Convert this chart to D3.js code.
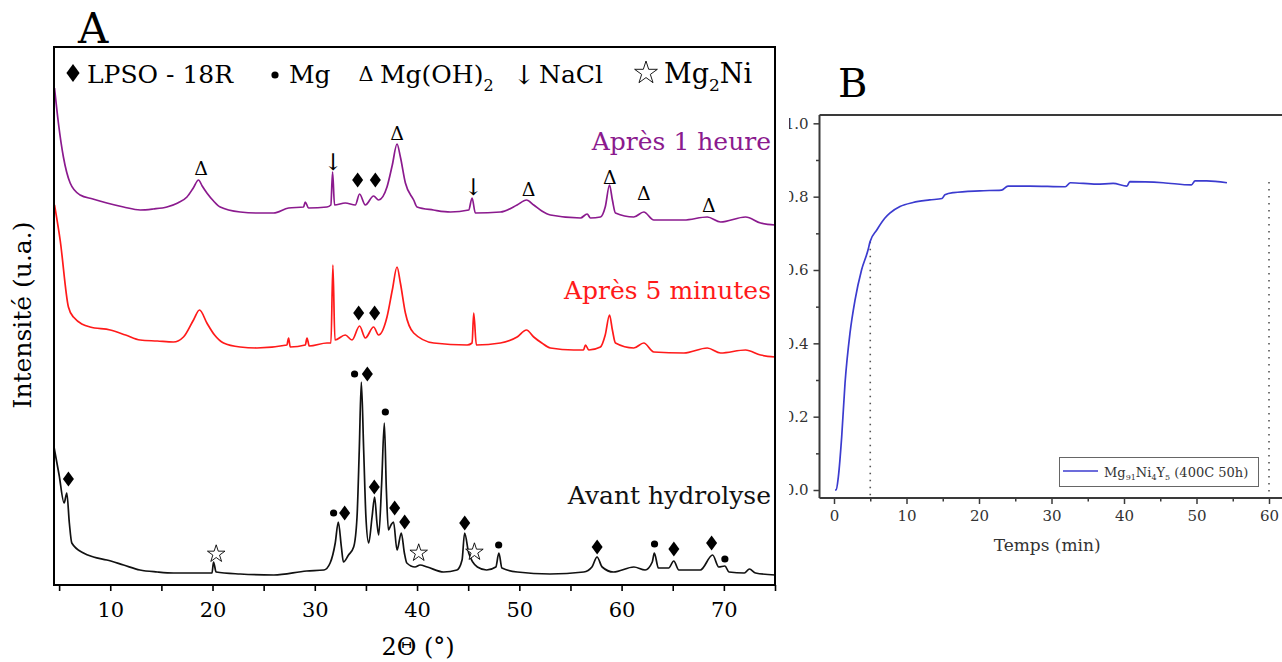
<!DOCTYPE html>
<html><head><meta charset="utf-8">
<script src="https://cdn.jsdelivr.net/npm/d3@7/dist/d3.min.js"></script>
<style>body{margin:0;background:#fff}svg{display:block}text{font-family:'DejaVu Serif',serif}</style>
</head><body><svg id="c" width="1282" height="662"></svg>
<script>
// ---------------- DATA ----------------
const thetaDomain = [4.5, 75];
const intensityDomain = [0, 538];
const thetaTicks = [5,10,15,20,25,30,35,40,45,50,55,60,65,70,75];

// [2theta (deg), intensity (a.u.)]
const apres1h = [[4.55,497],[4.93,462],[5.42,428],[6.08,402],[7.05,390],[8.3,386],[9.67,382],[11.3,378],[12.93,375],[14.2,376],[15.54,378],[16.6,382],[17.5,388],[18.12,397],[18.63,405],[18.99,399],[19.45,392],[20.1,384],[20.75,378],[22.71,373],[24.3,372],[25.97,372],[27.44,377],[28.9,378],[29.07,383],[29.39,377],[31.19,378],[31.57,380],[31.74,413],[31.93,380],[32.98,382],[33.96,380],[34.38,391],[34.94,380],[35.75,389],[36.24,385],[37.06,398],[37.58,420],[38.04,441],[38.37,428],[38.86,402],[39.67,385],[40.0,378],[41.6,375],[43.26,373],[45.05,375],[45.38,387],[45.7,372],[48.15,373],[49.78,380],[50.7,385],[51.41,380],[52.2,374],[53.04,370],[55.98,367],[56.63,371],[56.96,367],[57.93,368],[58.4,378],[58.82,400],[59.1,385],[59.4,372],[61.19,368],[62.17,373],[63.15,365],[66.09,365],[68.38,368],[69.68,363],[72.12,368],[73.59,362],[75.0,360]];

const apres5min = [[4.55,380],[5.1,345],[5.91,278],[6.4,268],[8.03,258],[10.0,255],[11.5,250],[12.93,245],[14.6,244],[16.18,243],[17.16,248],[18.14,265],[18.73,275],[19.45,262],[20.2,250],[21.08,242],[22.7,238],[24.34,237],[27.27,240],[27.44,247],[27.6,238],[29.07,240],[29.24,247],[29.46,239],[31.19,242],[31.58,242],[31.77,320],[31.97,245],[32.98,250],[33.64,245],[34.38,259],[34.94,247],[35.75,258],[36.24,250],[37.06,268],[37.58,295],[38.04,318],[38.37,302],[38.86,272],[39.67,252],[41.63,242],[44.9,240],[45.38,242],[45.54,272],[45.8,240],[48.15,242],[49.78,248],[50.7,255],[51.41,248],[52.2,242],[53.04,237],[55.32,235],[56.27,235],[56.47,240],[56.79,235],[57.93,238],[58.4,250],[58.82,270],[59.1,255],[59.4,242],[61.19,237],[62.17,242],[63.15,233],[66.09,232],[68.38,237],[69.68,232],[72.12,235],[73.59,230],[75.0,228]];

const avantHydrolyse = [[4.5,138],[5.0,110],[5.49,82],[5.75,92],[6.0,62],[6.24,42],[7.38,32],[8.36,28],[9.67,25],[11.3,20],[12.9,15],[14.6,13],[16.2,12],[19.45,12],[19.95,12],[20.1,23],[20.35,13],[22.7,11],[26.0,10],[29.2,14],[30.9,15],[31.5,22],[32.0,42],[32.3,63],[32.6,38],[32.8,23],[33.3,30],[33.8,38],[34.13,68],[34.35,135],[34.55,203],[34.78,135],[35.0,68],[35.27,42],[35.6,68],[35.85,88],[36.08,62],[36.25,50],[36.54,102],[36.8,162],[37.0,95],[37.2,55],[37.45,60],[37.7,63],[38.04,35],[38.46,52],[38.76,32],[39.0,22],[39.8,18],[40.3,20],[41.0,18],[42.6,13],[43.9,15],[44.4,25],[44.65,52],[45.05,32],[45.9,18],[46.8,15],[47.7,18],[48.0,32],[48.3,17],[49.8,13],[53.0,11],[56.3,13],[57.1,18],[57.6,28],[58.1,18],[59.2,13],[61.2,18],[62.3,15],[63.0,23],[63.2,32],[63.6,17],[64.6,17],[65.1,24],[65.6,15],[67.7,15],[68.9,30],[69.5,18],[70.1,19],[70.5,13],[72.0,12],[72.5,16],[73.1,12],[75.0,10]];

// phase markers: [2theta, intensity, type]
const markers1h = [[18.89,417,'delta'],[31.78,423,'arrow'],[34.19,405,'diamond'],[35.92,405,'diamond'],[38.04,452,'delta'],[45.48,398,'arrow'],[50.92,396,'delta'],[58.85,408,'delta'],[62.17,392,'delta'],[68.53,380,'delta']];
const markers5min = [[34.29,272,'diamond'],[35.85,272,'diamond']];
const markersAvant = [[5.91,106,'diamond'],[20.36,32,'star'],[31.84,72,'dot'],[32.92,72,'diamond'],[33.89,211,'dot'],[35.14,211,'diamond'],[35.82,98,'diamond'],[36.9,173,'dot'],[37.81,77,'diamond'],[38.79,63,'diamond'],[40.16,33,'star'],[44.66,62,'diamond'],[45.61,34,'star'],[47.98,40,'dot'],[57.61,38,'diamond'],[63.22,41,'dot'],[65.11,36,'diamond'],[68.8,42,'diamond'],[70.1,26,'dot']];

const seriesLabels = ['Après 1 heure','Après 5 minutes','Avant hydrolyse'];

// Panel B: hydrolysis kinetics
const tempsMin = [0.14,0.3,0.6,1.06,1.52,2.2,2.9,3.8,4.7,4.97,5.9,7.0,7.7,9.1,10.9,13.2,14.9,15.3,16.5,20.1,23.1,24.0,27.0,31.9,32.6,36.2,38.5,40.4,40.8,45.4,49.3,49.8,51.4,54.2];
const fraction = [0,0,0.036,0.145,0.291,0.427,0.518,0.6,0.655,0.677,0.709,0.741,0.755,0.773,0.784,0.791,0.795,0.805,0.811,0.816,0.818,0.829,0.829,0.827,0.838,0.834,0.836,0.829,0.841,0.838,0.832,0.843,0.843,0.838];
const tempsDomain = [-2, 64];
const fractionDomain = [-0.0218, 1.0227];
const guideTimes = [5, 60];
const guideValues = [0.677, 0.84];
const tempsTicks = d3.range(0, 65, 5);
const fractionTicks = d3.range(0, 10.5, 1).map(d => +(d/10).toFixed(1));

// ---------------- DRAWING ----------------
const svg = d3.select('#c');
svg.append('rect').attr('width',1282).attr('height',662).attr('fill','#fff');
const SERIF = "'DejaVu Serif', serif";

// ===== Panel A =====
const A = {l:54, r:775, t:47, b:585};
const x = d3.scaleLinear().domain(thetaDomain).range([A.l, A.r]);
const y = d3.scaleLinear().domain(intensityDomain).range([A.b, A.t]);
const gA = svg.append('g');

const clipA = svg.append('clipPath').attr('id','clipA');
clipA.append('rect').attr('x',A.l).attr('y',A.t).attr('width',A.r-A.l).attr('height',A.b-A.t);

const line = d3.line().curve(d3.curveMonotoneX).x(d=>x(d[0])).y(d=>y(d[1]));
const curves = gA.append('g').attr('clip-path','url(#clipA)');
[[apres1h,'#8b1a8e'],[apres5min,'#ff1a1a'],[avantHydrolyse,'#111']].forEach(([data,col])=>{
  curves.append('path').datum(data).attr('d',line).attr('fill','none').attr('stroke',col).attr('stroke-width',1.7).attr('stroke-linejoin','round');
});

function marker(g, type, cx, cy, s=1){
  if(type==='diamond'){
    g.append('path').attr('d',d3.line()([[cx,cy-7.5*s],[cx+5.5*s,cy],[cx,cy+7.5*s],[cx-5.5*s,cy]])+'Z').attr('fill','#000');
  } else if(type==='dot'){
    g.append('circle').attr('cx',cx).attr('cy',cy).attr('r',3.6*s).attr('fill','#000');
  } else if(type==='star'){
    g.append('path').attr('d',d3.symbol(d3.symbolStar, 95*s*s)()).attr('transform',`translate(${cx},${cy+1})`).attr('fill','#fff').attr('stroke','#000').attr('stroke-width',0.9);
  } else if(type==='delta'){
    g.append('text').attr('x',cx).attr('y',cy).attr('text-anchor','middle').attr('dominant-baseline','central').attr('font-size',19*s).attr('fill','#000').text('Δ');
  } else if(type==='arrow'){
    g.append('text').attr('x',cx).attr('y',cy).attr('text-anchor','middle').attr('dominant-baseline','central').attr('font-family',"'DejaVu Sans', sans-serif").attr('font-size',23*s).attr('fill','#000').text('↓');
  }
}
[markers1h, markers5min, markersAvant].forEach(arr => arr.forEach(m => marker(gA, m[2], x(m[0]), y(m[1]))));

// frame
gA.append('rect').attr('x',A.l).attr('y',A.t).attr('width',A.r-A.l).attr('height',A.b-A.t).attr('fill','none').attr('stroke','#000').attr('stroke-width',2);

// bottom axis
const axA = gA.append('g').attr('transform',`translate(0,${A.b})`)
  .call(d3.axisBottom(x).tickValues(thetaTicks).tickSize(6).tickPadding(11).tickFormat(d => d%10===0 && d<75 ? d : ''));
axA.select('.domain').remove();
axA.selectAll('line').attr('stroke','#000').attr('stroke-width',1.6);
axA.selectAll('text').attr('font-family',SERIF).attr('font-size',21).attr('fill','#000');

gA.append('text').attr('x',x(40.1)).attr('y',655).attr('text-anchor','middle').attr('font-size',24).text('2Θ (°)');
gA.append('text').attr('transform','translate(31,315) rotate(-90)').attr('text-anchor','middle').attr('font-size',25).text('Intensité (u.a.)');

// series labels
const labCols = ['#8b1a8e','#ff1a1a','#111'];
const labY = [150, 299, 504];
seriesLabels.forEach((t,i)=>{
  gA.append('text').attr('x',x(75)-4).attr('y',labY[i]).attr('text-anchor','end').attr('font-size',25).attr('fill',labCols[i]).text(t);
});

// legend
const leg = gA.append('g');
marker(leg,'diamond',73,73,1.2);
leg.append('text').attr('x',87).attr('y',83).attr('font-size',25).text('LPSO - 18R');
marker(leg,'dot',275,75,1);
leg.append('text').attr('x',289).attr('y',83).attr('font-size',25).text('Mg');
marker(leg,'delta',366,74,1.1);
const t3 = leg.append('text').attr('x',380).attr('y',83).attr('font-size',25).text('Mg(OH)');
t3.append('tspan').attr('dy',8).attr('font-size',16).text('2');
marker(leg,'arrow',524,74,1.15);
leg.append('text').attr('x',539).attr('y',83).attr('font-size',25).text('NaCl');
marker(leg,'star',646,72,1.3);
const t5 = leg.append('text').attr('x',664).attr('y',83).attr('font-size',27).text('Mg');
t5.append('tspan').attr('dy',8).attr('font-size',17).text('2');
t5.append('tspan').attr('dy',-8).text('Ni');

svg.append('text').attr('x',78).attr('y',43).attr('font-size',42).text('A');

// ===== Panel B =====
const B = {l:819.5, r:1298, t:115, b:498};
const xb = d3.scaleLinear().domain(tempsDomain).range([B.l, B.r]);
const yb = d3.scaleLinear().domain(fractionDomain).range([B.b, B.t]);
const clipB = svg.append('clipPath').attr('id','clipB');
clipB.append('rect').attr('x',789).attr('y',0).attr('width',500).attr('height',662);
const gB = svg.append('g').attr('clip-path','url(#clipB)');
const ink = '#3a3a3a';

// guides
guideTimes.forEach((t,i)=>{
  gB.append('line').attr('x1',xb(t)).attr('x2',xb(t)).attr('y1',yb(guideValues[i])).attr('y2',B.b)
    .attr('stroke','#555').attr('stroke-width',1.6).attr('stroke-dasharray','1.4,5.6');
});

const kin = tempsMin.map((t,i)=>[t,fraction[i]]);
gB.append('path').datum(kin).attr('d',d3.line().curve(d3.curveMonotoneX).x(d=>xb(d[0])).y(d=>yb(d[1]))).attr('fill','none').attr('stroke','#3b3bcf').attr('stroke-width',1.7);

// axes
const axBx = gB.append('g').attr('transform',`translate(0,${B.b})`)
  .call(d3.axisBottom(xb).tickValues(tempsTicks).tickSize(6).tickPadding(6).tickFormat(d => d%10===0 ? d : ''));
axBx.selectAll('.tick').filter(d => d%10!==0).select('line').attr('y2',3.5);
const axBy = gB.append('g').attr('transform',`translate(${B.l},0)`)
  .call(d3.axisLeft(yb).tickValues(fractionTicks).tickSize(6).tickPadding(5).tickFormat(d => Math.round(d*10)%2===0 ? d3.format('.1f')(d) : ''));
axBy.selectAll('.tick').filter(d => Math.round(d*10)%2!==0).select('line').attr('x2',-3.5);
[axBx, axBy].forEach(a=>{
  a.select('.domain').remove();
  a.selectAll('line').attr('stroke',ink).attr('stroke-width',1.5);
  a.selectAll('text').attr('font-family',SERIF).attr('font-size',15).attr('fill','#333');
});
gB.append('line').attr('x1',B.l).attr('x2',B.r).attr('y1',B.t).attr('y2',B.t).attr('stroke',ink).attr('stroke-width',2);
gB.append('line').attr('x1',B.l).attr('x2',B.l).attr('y1',B.t).attr('y2',B.b).attr('stroke',ink).attr('stroke-width',2);
gB.append('line').attr('x1',B.l).attr('x2',B.r).attr('y1',B.b).attr('y2',B.b).attr('stroke',ink).attr('stroke-width',2);

gB.append('text').attr('x',xb(29.4)).attr('y',551).attr('text-anchor','middle').attr('font-size',17).attr('fill','#333').text('Temps (min)');

// legend B
const lb = gB.append('g');
lb.append('rect').attr('x',1059.5).attr('y',457.5).attr('width',199).attr('height',29).attr('fill','#fff').attr('stroke','#666').attr('stroke-width',1);
lb.append('line').attr('x1',1063).attr('x2',1098).attr('y1',471).attr('y2',471).attr('stroke','#3b3bcf').attr('stroke-width',1.6);
const lt = lb.append('text').attr('x',1104).attr('y',477).attr('font-size',13).attr('fill','#333');
lt.append('tspan').text('Mg');
lt.append('tspan').attr('dy',3).attr('font-size',8).text('91');
lt.append('tspan').attr('dy',-3).text('Ni');
lt.append('tspan').attr('dy',3).attr('font-size',8).text('4');
lt.append('tspan').attr('dy',-3).text('Y');
lt.append('tspan').attr('dy',3).attr('font-size',8).text('5');
lt.append('tspan').attr('dy',-3).text(' (400C 50h)');

svg.append('text').attr('x',838).attr('y',97).attr('font-size',40).text('B');
</script></body></html>
